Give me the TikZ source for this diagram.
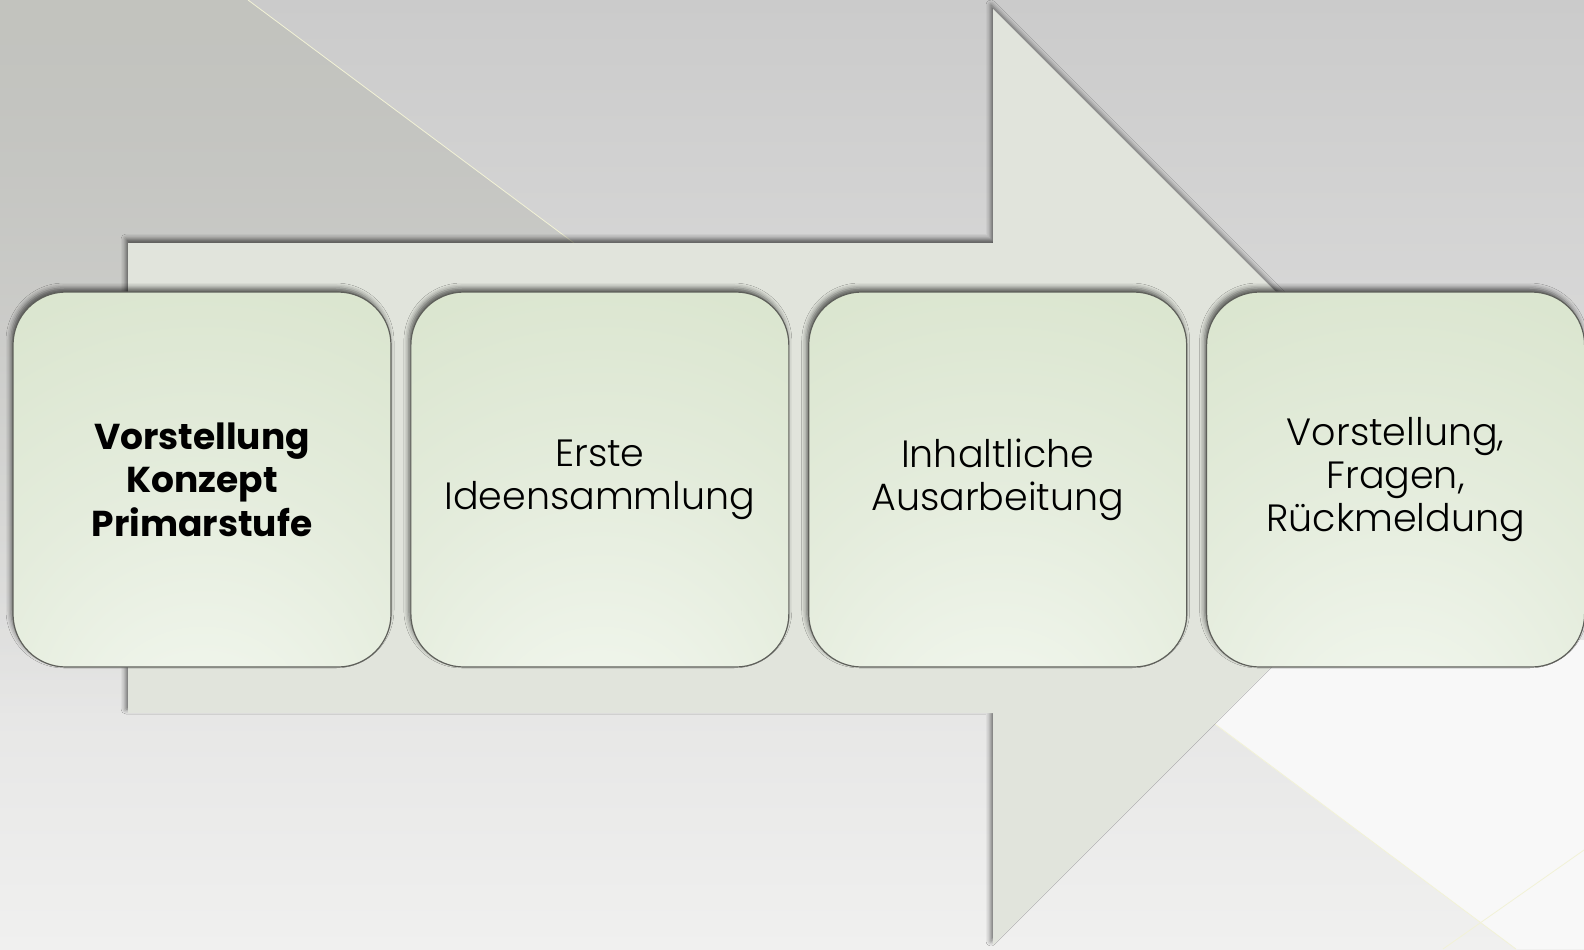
\documentclass[tikz,border=0pt]{standalone}
\usepackage{fontspec}
\setmainfont{Poppins}[UprightFont=* Light, BoldFont=* Bold]
\usetikzlibrary{positioning,shadows.blur,fadings}

\definecolor{bgtop}{HTML}{CBCBCB}
\definecolor{bgbottom}{HTML}{F0F0EF}
\definecolor{bgdark}{HTML}{C2C3BE}
\definecolor{bglight}{HTML}{F8F8F8}
\definecolor{glint}{HTML}{F2F2D6}
\definecolor{arrowfill}{HTML}{E1E4DC}
\definecolor{stagetop}{HTML}{D4E1C6}
\definecolor{stagemid}{HTML}{E4ECDC}
\definecolor{stagelow}{HTML}{F5F9F2}
\definecolor{stageline}{HTML}{5E5F5A}

\pgfdeclareradialshading{stagefill}{\pgfpoint{0bp}{-40bp}}{color(0bp)=(stagelow); color(30bp)=(stagemid); color(65bp)=(stagetop); color(110bp)=(stagetop)}

\begin{document}
\begin{tikzpicture}[x=0.5pt, y=-0.5pt,
    softshadow/.style={blur shadow={shadow xshift=-1pt, shadow yshift=2pt, shadow blur radius=2.5pt, shadow opacity=60}},
    stage/.style={draw=stageline, line width=0.6pt, shading=stagefill, rounded corners=26.5pt,
        minimum width=189pt, minimum height=187.5pt, inner sep=0pt, align=center,
        font=\fontsize{19}{21.7}\selectfont, softshadow},
    boldstage/.style={stage, font=\fontsize{18}{21.7}\selectfont\bfseries}]

    \useasboundingbox (0,0) rectangle (1584,949);
    \fill [top color=bgtop, bottom color=bgbottom] (0,0) rectangle (1584,949);
    \fill [bgdark, path fading=south] (0,0) -- (248,0) -- (993,555) -- (993,713) -- (0,713) -- cycle;
    \fill [bglight] (1102,640) -- (1584,640) -- (1584,949) -- (1516,949) -- cycle;
    \draw [glint, line width=0.4pt] (248,0) -- (574,243);
    \draw [glint, line width=0.4pt] (1215,724) -- (1516,949);
    \draw [glint, line width=0.4pt] (1443,949) -- (1584,850);

    \fill [arrowfill, softshadow] (128,243) -- (993,243) -- (993,9) -- (1461,477)
        -- (993,945) -- (993,713) -- (128,713) -- cycle;

    \node [boldstage] (konzept) at (202,479.5) {Vorstellung\\Konzept\\Primarstufe};
    \node [stage, right=9.33pt of konzept] (ideen) {Erste\\Ideensammlung};
    \node [stage, right=9.33pt of ideen] (ausarbeitung) {Inhaltliche\\Ausarbeitung};
    \node [stage, right=9.33pt of ausarbeitung] (rueckmeldung) {Vorstellung,\\Fragen,\\Rückmeldung};

\end{tikzpicture}
\end{document}
